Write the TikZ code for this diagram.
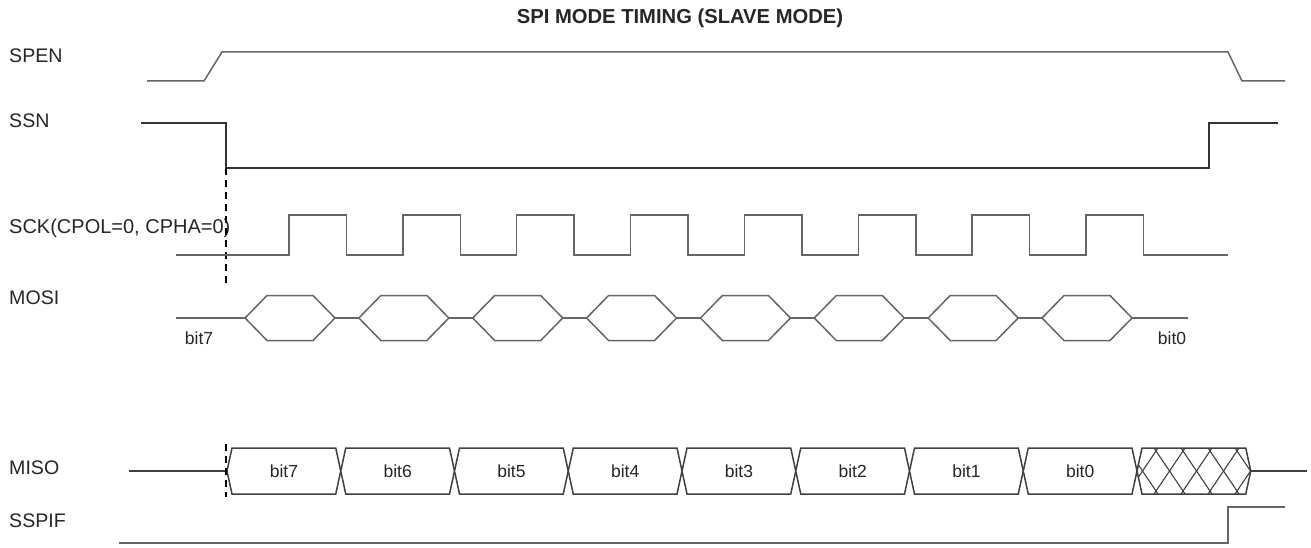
\documentclass[tikz,border=0pt]{standalone}
\usepackage{fontspec}
\setmainfont{Liberation Sans}
\usetikzlibrary{positioning}

\begin{document}
\begin{tikzpicture}[x=1pt, y=-1pt, wave/.style={draw=black!60, line width=1.5pt, line join=miter}, sig/.style={anchor=west, inner sep=0pt, text=black!85, font=\fontsize{19.6}{23}\selectfont}, bitlbl/.style={inner sep=0pt, text=black!85, font=\fontsize{17.5}{20}\selectfont}, guide/.style={draw=black, line width=1.2pt, dash pattern=on 7pt off 5pt}]
	\useasboundingbox (0,0) rectangle (1311,548);

	% Title
	\node[inner sep=0pt, text=black!85, font=\bfseries\fontsize{20.2}{23}\selectfont] (title) at (680,18) {SPI MODE TIMING (SLAVE MODE)};

	% Signal names
	\node[sig] (spen) at (9,56) {SPEN};
	\node[sig] (ssn) at (9,121) {SSN};
	\node[sig, font=\fontsize{20}{23}\selectfont] (sck) at (9,228) {SCK(CPOL=0, CPHA=0)};
	\node[sig] (mosi) at (9,298) {MOSI};
	\node[sig] (miso) at (9,468) {MISO};
	\node[sig] (sspif) at (9,521) {SSPIF};

	% SPEN and SSN
	\draw[wave] (147,81) -- (204,81) -- (222,52) -- (1228,52) -- (1242,81) -- (1285,81);
	\draw[wave, draw=black!80] (141,123) -- (226,123) -- (226,168) -- (1209,168) -- (1209,123) -- (1278,123);
	\draw[guide] (226,168) -- (226,284);

	% SCK
	\draw[wave] (176,255) foreach \k in {0,...,7} { -- ({289+113.86*\k},255) -- ({289+113.86*\k},215) -- ({346.5+113.86*\k},215) -- ({346.5+113.86*\k},255) } -- (1228,255);

	% MOSI
	\draw[wave] (176,318) -- (1188,318);
	\foreach \k in {0,...,7} {
		\pgfmathsetmacro{\xa}{245+113.86*\k}
		\draw[wave, fill=white] (\xa,318) -- ++(22,-22.5) -- ++(46,0) -- ++(22,22.5) -- ++(-22,22.5) -- ++(-46,0) -- cycle;
	}
	\node[bitlbl] (mosifirst) at (199,338) {bit7};
	\node[bitlbl] (mosilast) at (1172,338) {bit0};

	% MISO
	\draw[wave, draw=black!75] (129,471) -- (1307,471);
	\foreach \k/\b in {0/7,1/6,2/5,3/4,4/3,5/2,6/1,7/0} {
		\pgfmathsetmacro{\xa}{227+113.75*\k}
		\draw[wave, draw=black!75, fill=white] (\xa,471) -- ++(5,-23) -- ++(103.75,0) -- ++(5,23) -- ++(-5,23) -- ++(-103.75,0) -- cycle;
		\node[bitlbl] (b\b) at (\xa+56.9,471) {bit\b};
	}
	\begin{scope}
		\clip (1137,471) -- (1142,448) -- (1245.75,448) -- (1250.75,471) -- (1245.75,494) -- (1142,494) -- cycle;
		\fill[white] (1130,440) rectangle (1260,500);
		\foreach \x in {1073,1100,...,1262} {
			\draw[black!75, line width=1.1pt] (\x,448) -- ++(31,46);
			\draw[black!75, line width=1.1pt] (\x+31,448) -- ++(-31,46);
		}
	\end{scope}
	\draw[wave, draw=black!75] (1137,471) -- (1142,448) -- (1245.75,448) -- (1250.75,471) -- (1245.75,494) -- (1142,494) -- cycle;
	\draw[guide] (226,444) -- (226,497);

	% SSPIF
	\draw[wave] (119,543) -- (1228,543) -- (1228,507) -- (1285,507);
\end{tikzpicture}
\end{document}
